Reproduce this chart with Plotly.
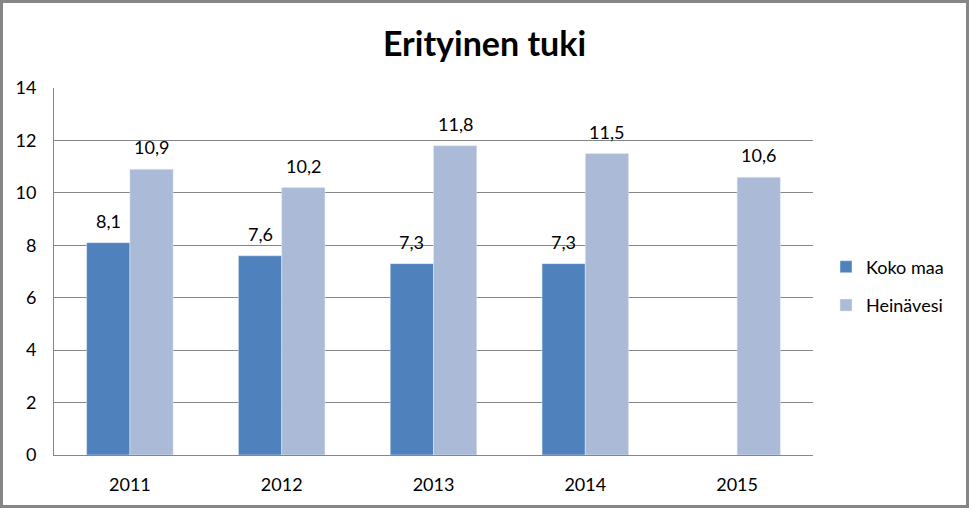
import plotly.graph_objects as go

years = ["2011", "2012", "2013", "2014", "2015"]
koko_maa = [8.1, 7.6, 7.3, 7.3, None]
heinavesi = [10.9, 10.2, 11.8, 11.5, 10.6]
y_ticks = [0, 2, 4, 6, 8, 10, 12, 14]

W, H = 969, 508
ml, mr, mt, mb = 54, 156, 88, 53
FONT = "Lato"
FS = 18
BARGAP = 0.43

def lab(v):
    return f"{v:.1f}".replace(".", ",")

fig = go.Figure()
fig.add_trace(go.Bar(x=years, y=koko_maa, name="Koko maa", marker_color="#4F81BD",
                     legendgroup="a"))
fig.add_trace(go.Bar(x=years, y=heinavesi, name="Heinävesi", marker_color="#AABAD7",
                     legendgroup="b"))

pw = W - ml - mr
ph = H - mt - mb
cat_w = pw / len(years)
bar_w = cat_w * (1 - BARGAP) / 2

for series, sign in ((koko_maa, -1), (heinavesi, 1)):
    for i, v in enumerate(series):
        if v is None:
            continue
        fig.add_annotation(x=i, y=v, text=lab(v), showarrow=False,
                           xshift=sign * bar_w / 2, yshift=9, yanchor="bottom",
                           font=dict(size=FS, family=FONT, color="#000000"))

fig.add_shape(type="rect", xref="paper", yref="paper",
              x0=(-ml + 1.5) / pw, x1=(pw + mr - 1.5) / pw,
              y0=(-mb + 1.5) / ph, y1=(ph + mt - 1.5) / ph,
              line=dict(color="#868686", width=3), fillcolor="rgba(0,0,0,0)", layer="below")

fig.update_layout(
    width=W, height=H,
    margin=dict(l=ml, r=mr, t=mt, b=mb),
    paper_bgcolor="white", plot_bgcolor="white",
    barmode="group", bargap=BARGAP, bargroupgap=0,
    font=dict(family=FONT, size=FS, color="#000000"),
    title=dict(text="<b>Erityinen tuki</b>", x=0.5, xref="container", xanchor="center",
               y=1 - 44 / H, yanchor="middle", font=dict(size=34, family=FONT, color="#000000")),
    showlegend=True,
    legend=dict(x=1 + (826 - (W - mr)) / pw, y=1 - (286 - mt) / ph, xanchor="left", yanchor="middle",
                font=dict(size=FS, family=FONT), itemwidth=30, tracegroupgap=12),
)
fig.update_xaxes(type="category", categoryorder="array", categoryarray=years,
                 range=[-0.5, len(years) - 0.5],
                 showline=True, linecolor="#868686", linewidth=1, ticks="", showgrid=False,
                 tickfont=dict(size=FS), ticklabelstandoff=13)
fig.update_yaxes(range=[0, 14], tickvals=y_ticks, showgrid=True, gridcolor="#868686", gridwidth=1,
                 showline=True, linecolor="#868686", linewidth=1, ticks="", zeroline=False,
                 tickfont=dict(size=FS), ticklabelstandoff=13)

fig.write_html("out.html")
